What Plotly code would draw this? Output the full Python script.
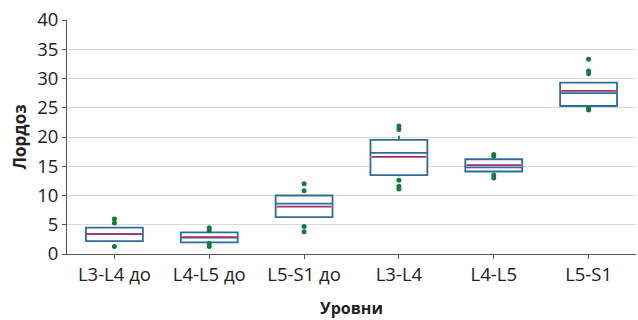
import plotly.graph_objects as go

categories = ["L3-L4 до", "L4-L5 до", "L5-S1 до", "L3-L4", "L4-L5", "L5-S1"]
q1 = [2.2, 2.0, 6.3, 13.5, 14.1, 25.3]
median = [3.4, 2.8, 8.6, 17.3, 14.8, 27.5]
q3 = [4.5, 3.7, 10.0, 19.5, 16.2, 29.3]
lower_fence = [2.2, 2.0, 6.3, 13.3, 14.1, 25.3]
upper_fence = [4.5, 3.7, 10.0, 20.2, 16.2, 29.3]
means = [3.4, 2.9, 8.1, 16.6, 15.2, 27.9]

outlier_x = ["L3-L4 до", "L3-L4 до", "L3-L4 до",
             "L4-L5 до", "L4-L5 до", "L4-L5 до", "L4-L5 до",
             "L5-S1 до", "L5-S1 до", "L5-S1 до", "L5-S1 до",
             "L3-L4", "L3-L4", "L3-L4", "L3-L4", "L3-L4",
             "L4-L5", "L4-L5", "L4-L5", "L4-L5",
             "L5-S1", "L5-S1", "L5-S1", "L5-S1", "L5-S1"]
outlier_y = [6.0, 5.3, 1.3,
             4.5, 4.0, 1.8, 1.3,
             12.0, 10.8, 4.7, 3.8,
             21.9, 21.3, 12.6, 11.6, 11.1,
             17.0, 16.7, 13.5, 13.0,
             33.3, 31.3, 30.8, 25.0, 24.6]

blue = "#2f6b9e"
purple = "#a0306e"
green = "#157a3a"
font_family = "Open Sans, Noto Sans, sans-serif"

fig = go.Figure()
fig.add_trace(go.Box(
    x=categories, q1=q1, median=median, q3=q3,
    lowerfence=lower_fence, upperfence=upper_fence,
    boxpoints=False, fillcolor="white", width=0.6,
    line=dict(color=blue, width=1.8), whiskerwidth=0,
    showlegend=False,
))
fig.add_trace(go.Scatter(
    x=categories, y=means, mode="markers",
    marker=dict(symbol="line-ew", size=39, color=purple,
                line=dict(color=purple, width=1.8)),
    showlegend=False,
))
fig.add_trace(go.Scatter(
    x=outlier_x, y=outlier_y, mode="markers",
    marker=dict(color=green, size=5),
    showlegend=False,
))

fig.update_layout(
    width=638, height=320,
    margin=dict(l=67, r=2, t=20, b=66),
    paper_bgcolor="white", plot_bgcolor="white",
    font=dict(family=font_family, color="#222222"),
    xaxis=dict(
        type="category", categoryorder="array", categoryarray=categories,
        range=[-0.5, len(categories) - 0.5],
        showline=True, linecolor="#555555", linewidth=1,
        ticks="outside", ticklen=4, tickcolor="#555555",
        tickfont=dict(size=18.5, color="#222222"),
        title=dict(text="<b>Уровни</b>", font=dict(size=16, color="#222222"), standoff=17),
        showgrid=False, automargin=False,
    ),
    yaxis=dict(
        range=[0, 40], dtick=5,
        showline=True, linecolor="#555555", linewidth=1,
        ticks="outside", ticklen=4, tickcolor="#555555",
        tickfont=dict(size=18.5, color="#222222"),
        showgrid=True, gridcolor="#d9d9d9", gridwidth=1,
        zeroline=False, automargin=False,
        title=dict(text="<b>Лордоз</b>", font=dict(size=17, color="#222222"), standoff=6),
    ),
)

fig.write_html("out.html", config={"displayModeBar": False},
               post_script="document.body.style.margin='0';")
